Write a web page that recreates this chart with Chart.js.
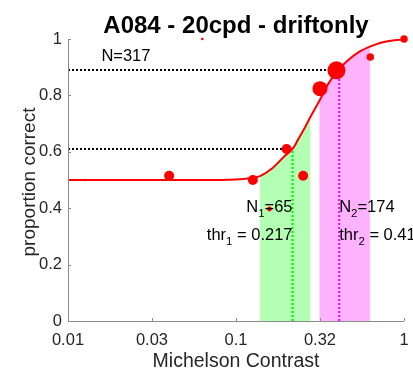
<!DOCTYPE html>
<html>
<head>
<meta charset="utf-8">
<script src="https://cdn.jsdelivr.net/npm/chart.js@4"></script>
<style>
  body { margin: 0; background: #fff; }
</style>
</head>
<body>
<canvas id="psychChart" width="413" height="371"></canvas>
<script>
// --- data ---
const xTicks = [0.01, 0.0316, 0.1, 0.316, 1];
const xTickLabels = ['0.01', '0.03', '0.1', '0.32', '1'];
const yTicks = [0, 0.2, 0.4, 0.6, 0.8, 1];
const yTickLabels = ['0', '0.2', '0.4', '0.6', '0.8', '1'];

// measured points (contrast, proportion correct, trials per point)
const contrast = [0.0126, 0.04, 0.063, 0.126, 0.158, 0.2, 0.251, 0.316, 0.396, 0.63, 1.0];
const propCorrect = [0.5, 0.515, 1.0, 0.5, 0.397, 0.61, 0.515, 0.824, 0.889, 0.936, 1.0];
const trials = [2, 29, 2, 29, 7, 29, 29, 65, 93, 16, 16];

// fitted psychometric curve
const fitX = [0.01, 0.03, 0.06, 0.1, 0.12, 0.139, 0.163, 0.197, 0.217, 0.235, 0.259, 0.278, 0.313, 0.353, 0.405, 0.464, 0.532, 0.627, 0.728, 0.857, 1.0];
const fitY = [0.5, 0.5, 0.5, 0.502, 0.506, 0.514, 0.54, 0.588, 0.61, 0.645, 0.69, 0.725, 0.78, 0.84, 0.89, 0.925, 0.952, 0.973, 0.987, 0.995, 0.998];

// thresholds and the bands around them
const thresholds = [0.217, 0.411];
const thresholdLevels = [0.61, 0.89];
const bandRanges = [[0.139, 0.278], [0.313, 0.627]];
const bandN = [65, 174];
const totalN = 317;

const FONT = "'Liberation Sans', Arial, Helvetica, sans-serif";
const TEXT = '#262626';

const fitPoints = fitX.map((x, i) => ({ x: x, y: fitY[i] }));
function bandPoints(range) {
    return fitPoints.filter(p => p.x >= range[0] && p.x <= range[1]);
}

// draw text with subscripts: parts = [[str, isSub], ...]
function drawParts(ctx, x, y, parts, align) {
    const measure = p => {
        ctx.font = (p[1] ? '11.5px ' : '16.5px ') + FONT;
        return ctx.measureText(p[0]).width;
    };
    let total = 0;
    parts.forEach(p => total += measure(p));
    let cx = align === 'right' ? x - total : x;
    parts.forEach(p => {
        const w = measure(p);
        ctx.fillText(p[0], cx, p[1] ? y + 5 : y);
        cx += w;
    });
}

const decorPlugin = {
    id: 'decor',
    afterDatasetsDraw(chart) {
        const ctx = chart.ctx;
        const a = chart.chartArea;
        const sx = chart.scales.x, sy = chart.scales.y;
        ctx.save();
        // axes
        ctx.strokeStyle = '#8c8c8c';
        ctx.lineWidth = 1;
        ctx.beginPath();
        ctx.moveTo(a.left + 0.5, a.top);
        ctx.lineTo(a.left + 0.5, a.bottom + 0.5);
        ctx.lineTo(a.right, a.bottom + 0.5);
        ctx.stroke();
        // inward tick marks
        ctx.beginPath();
        xTicks.forEach(v => {
            const px = Math.round(sx.getPixelForValue(v)) + 0.5;
            ctx.moveTo(px, a.bottom);
            ctx.lineTo(px, a.bottom - 3);
        });
        yTicks.forEach(v => {
            const py = Math.round(sy.getPixelForValue(v)) + 0.5;
            ctx.moveTo(a.left, py);
            ctx.lineTo(a.left + 3, py);
        });
        ctx.stroke();

        // annotations
        ctx.fillStyle = '#000';
        ctx.textBaseline = 'alphabetic';
        ctx.textAlign = 'left';
        drawParts(ctx, sx.getPixelForValue(0.0158), sy.getPixelForValue(0.95) + 8, [['N=' + totalN, false]], 'left');

        const t1 = sx.getPixelForValue(thresholds[0]);
        const t2 = sx.getPixelForValue(thresholds[1]);
        const yN = sy.getPixelForValue(0.4) + 3.5;
        const yT = sy.getPixelForValue(0.3) + 4;
        drawParts(ctx, t1, yN, [['N', false], ['1', true], ['=' + bandN[0], false]], 'right');
        drawParts(ctx, t1, yT, [['thr', false], ['1', true], [' = ' + thresholds[0].toFixed(3), false]], 'right');
        drawParts(ctx, t2, yN, [['N', false], ['2', true], ['=' + bandN[1], false]], 'left');
        drawParts(ctx, t2, yT, [['thr', false], ['2', true], [' = ' + thresholds[1].toFixed(3), false]], 'left');

        // titles
        ctx.textAlign = 'center';
        ctx.font = 'bold 24px ' + FONT;
        ctx.fillStyle = '#000';
        ctx.fillText('A084 - 20cpd - driftonly', (a.left + a.right) / 2, 33);
        ctx.fillStyle = TEXT;
        ctx.font = '19.5px ' + FONT;
        ctx.fillText('Michelson Contrast', (a.left + a.right) / 2, 367);
        ctx.font = '19px ' + FONT;
        ctx.translate(35, (a.top + a.bottom) / 2 + 2);
        ctx.rotate(-Math.PI / 2);
        ctx.fillText('proportion correct', 0, 0);
        ctx.restore();
    }
};

function dotted(points, color, order) {
    return {
        type: 'line',
        data: points,
        borderColor: color,
        borderWidth: 2,
        borderDash: [2, 2],
        pointRadius: 0,
        fill: false,
        order: order
    };
}

const ctx = document.getElementById('psychChart').getContext('2d');
new Chart(ctx, {
    type: 'scatter',
    data: {
        datasets: [
            {
                type: 'line',
                data: bandPoints(bandRanges[0]),
                fill: 'origin',
                backgroundColor: '#b3ffb3',
                borderWidth: 0,
                pointRadius: 0,
                cubicInterpolationMode: 'monotone',
                order: 6
            },
            {
                type: 'line',
                data: bandPoints(bandRanges[1]),
                fill: 'origin',
                backgroundColor: '#ffb3ff',
                borderWidth: 0,
                pointRadius: 0,
                cubicInterpolationMode: 'monotone',
                order: 6
            },
            dotted([{ x: xTicks[0], y: thresholdLevels[0] }, { x: thresholds[0], y: thresholdLevels[0] }], '#000000', 4),
            dotted([{ x: xTicks[0], y: thresholdLevels[1] }, { x: thresholds[1], y: thresholdLevels[1] }], '#000000', 4),
            dotted([{ x: thresholds[0], y: 0 }, { x: thresholds[0], y: thresholdLevels[0] }], '#00ee00', 4),
            dotted([{ x: thresholds[1], y: 0 }, { x: thresholds[1], y: thresholdLevels[1] }], '#ff00ff', 4),
            {
                type: 'line',
                data: fitPoints,
                borderColor: '#ff0000',
                borderWidth: 2,
                pointRadius: 0,
                fill: false,
                cubicInterpolationMode: 'monotone',
                order: 2
            },
            {
                type: 'scatter',
                data: contrast.map((x, i) => ({ x: x, y: propCorrect[i] })),
                backgroundColor: '#ff0000',
                borderWidth: 0,
                pointRadius: trials.map(n => 0.93 * Math.sqrt(n)),
                clip: false,
                order: 1
            }
        ]
    },
    options: {
        responsive: false,
        animation: false,
        layout: { padding: { top: 39, right: 7, left: 0, bottom: 0 } },
        plugins: {
            legend: { display: false },
            tooltip: { enabled: false }
        },
        scales: {
            x: {
                type: 'logarithmic',
                min: 0.01,
                max: 1,
                afterBuildTicks: s => { s.ticks = xTicks.map(v => ({ value: v })); },
                afterFit: s => { s.height = 50; s.paddingLeft = 0; s.paddingRight = 0; },
                grid: { display: false, drawTicks: false },
                border: { display: false },
                ticks: {
                    callback: (v, i) => xTickLabels[i],
                    font: { family: FONT, size: 16.5 },
                    color: TEXT,
                    padding: 10,
                    maxRotation: 0,
                    autoSkip: false
                }
            },
            y: {
                min: 0,
                max: 1,
                afterBuildTicks: s => { s.ticks = yTicks.map(v => ({ value: v })); },
                afterFit: s => { s.width = 68; s.paddingTop = 0; s.paddingBottom = 0; },
                grid: { display: false, drawTicks: false },
                border: { display: false },
                ticks: {
                    callback: (v, i) => yTickLabels[i],
                    font: { family: FONT, size: 16.5 },
                    color: TEXT,
                    padding: 6
                }
            }
        }
    },
    plugins: [decorPlugin]
});
</script>
</body>
</html>
